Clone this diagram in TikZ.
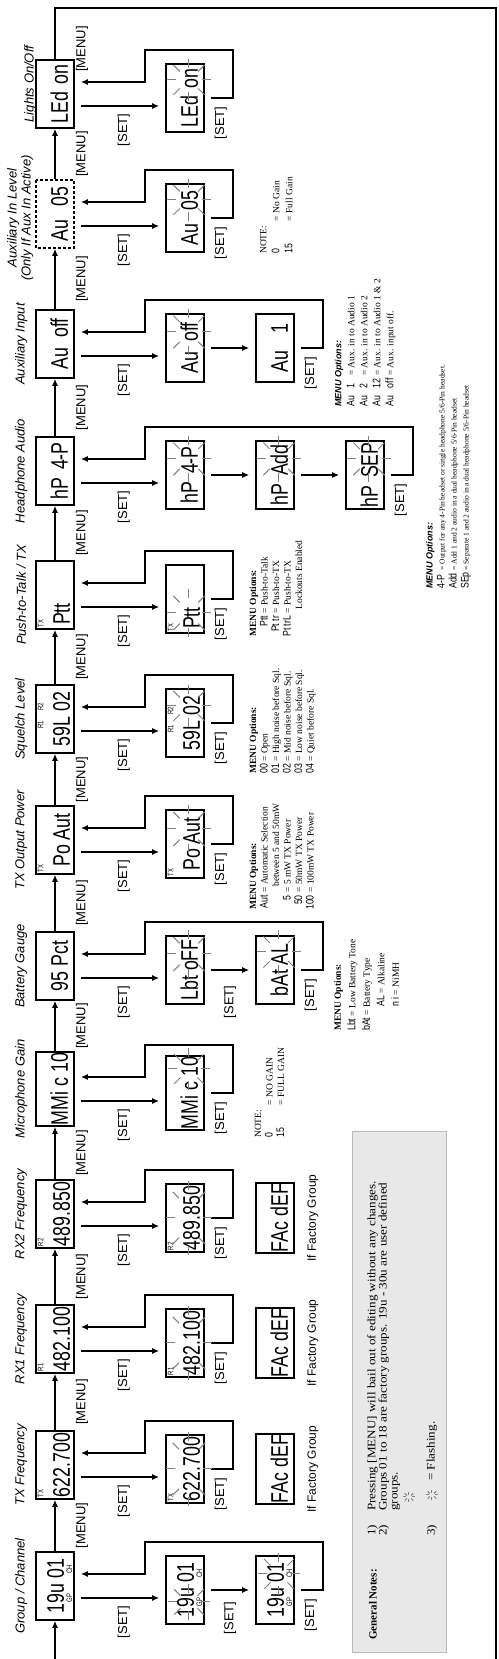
\documentclass[tikz,border=0pt]{standalone}
\usepackage{fontspec}
\setmainfont{Liberation Serif}
\newfontfamily\lcdfont[FakeStretch=0.74]{Liberation Sans}
\newfontfamily\lblfont{Liberation Sans}
\newfontfamily\keyfont[FakeStretch=0.8]{Liberation Sans}
\newfontfamily\notefont[FakeStretch=1.14]{Liberation Serif}
\usetikzlibrary{arrows.meta,calc}

\newcommand{\optkey}[1]{{\keyfont\fontsize{11}{11}\selectfont #1}}
% rays round the part of a display that flashes
\def\raylen{9}
\newcommand{\flashat}[5]{%
  \foreach \ang in {0,45,...,315}
    {\draw[ray] ($(#1)+(#2,#3)+({#4*cos(\ang)},{#5*sin(\ang)})$) -- ($(#1)+(#2,#3)+({(#4+\raylen)*cos(\ang)},{(#5+\raylen)*sin(\ang)})$);}}

\begin{document}
\begin{tikzpicture}[x=1pt, y=1pt, rotate=90, transform shape]
  \tikzset{lcd/.style = {draw, line width=1.6pt, minimum width=68pt, minimum height=38pt, inner sep=1pt,
      text height=26pt, text depth=0pt, font=\lcdfont\fontsize{24}{24}\selectfont}}
  \tikzset{tagged/.style = {text height=30pt}}
  \tikzset{grpbox/.style = {text height=22pt, text depth=4pt}}
  \tikzset{tag/.style = {font=\lcdfont\fontsize{8}{8}\selectfont, inner sep=2.5pt, anchor=north west}}
  \tikzset{lbl/.style = {font=\lblfont\fontsize{13}{13}\selectfont, inner sep=0pt}}
  \tikzset{ttl/.style = {font=\lblfont\itshape\fontsize{13}{14}\selectfont, inner sep=0pt, align=center}}
  \tikzset{arr/.style = {line width=1.6pt, -{Latex[length=7pt,width=6pt]}}}
  \tikzset{gap/.style = {shorten <=6pt, shorten >=6pt}}
  \tikzset{ray/.style = {gray, line width=1pt}}
  \tikzset{opt/.style = {font=\fontsize{9.5}{11.5}\selectfont, inner sep=0pt, anchor=north west, align=left}}

  \useasboundingbox (0,0) rectangle (1659,498);

  % main displays
  \node[lcd, grpbox] (grp) at (73,443) {19u 01};
  \node[lcd, tagged, label={[tag]north west:TX}] (txf) at (194,443) {622.700};
  \node[lcd, tagged, label={[tag]north west:R1}] (rxa) at (320,443) {482.100};
  \node[lcd, tagged, label={[tag]north west:R2}] (rxb) at (445,443) {489.850};
  \node[lcd] (mic) at (570,443) {MMi c 10};
  \node[lcd] (bat) at (693,443) {95 Pct};
  \node[lcd, tagged, label={[tag]north west:TX}] (pwr) at (819,443) {Po Aut};
  \node[lcd, tagged] (sql) at (940,443) {59L 02};
  \node[lcd, tagged, label={[tag]north west:TX}, text width=60pt, align=left] (ptt) at (1064,443) {Ptt};
  \node[lcd] (hp) at (1188,443) {hP\hspace{8pt}4-P};
  \node[lcd] (aux) at (1315,443) {Au\hspace{10pt}off};
  \node[lcd, densely dashed] (auxl) at (1445,443) {Au\hspace{14pt}05};
  \node[lcd] (led) at (1565,443) {LEd\hspace{8pt}on};

  % displays after [SET]
  \node[lcd, grpbox] (grp2) at (69,313) {19u 01};
  \node[lcd, grpbox] (grp3) at (69,223) {19u 01};
  \node[lcd, tagged, label={[tag]north west:TX}] (txf2) at (190,313) {622.700};
  \node[lcd] (txf3) at (190,223) {FAc dEF};
  \node[lcd, tagged, label={[tag]north west:R1}] (rxa2) at (316,313) {482.100};
  \node[lcd] (rxa3) at (316,223) {FAc dEF};
  \node[lcd, tagged, label={[tag]north west:R2}] (rxb2) at (441,313) {489.850};
  \node[lcd] (rxb3) at (441,223) {FAc dEF};
  \node[lcd] (mic2) at (566,313) {MMi c 10};
  \node[lcd] (bat2) at (689,313) {Lbt oFF};
  \node[lcd] (bat3) at (689,223) {bAt AL};
  \node[lcd, tagged, label={[tag]north west:TX}] (pwr2) at (815,313) {Po Aut};
  \node[lcd, tagged] (sql2) at (936,313) {59L 02};
  \node[lcd, tagged, label={[tag]north west:TX}, text width=60pt, align=left] (ptt2) at (1060,313) {Ptt};
  \node[lcd] (hp2) at (1184,313) {hP\hspace{8pt}4-P};
  \node[lcd] (hp3) at (1184,223) {hP\hspace{8pt}Add};
  \node[lcd] (hp4) at (1184,133) {hP\hspace{8pt}SEP};
  \node[lcd] (aux2) at (1311,313) {Au\hspace{10pt}off};
  \node[lcd] (aux3) at (1311,223) {Au\hspace{18pt}1};
  \node[lcd] (auxl2) at (1441,313) {Au\hspace{14pt}05};
  \node[lcd] (led2) at (1561,313) {LEd\hspace{8pt}on};

  % small marks on the displays
  \foreach \n in {grp,grp2,grp3}
  {
    \node[tag, anchor=south] (\n-gp) at ($(\n.south)+(-12,0)$) {GP};
    \node[tag, anchor=south] (\n-ch) at ($(\n.south)+(17,0)$) {CH};
  }
  \foreach \n in {sql,sql2}
  {
    \node[tag, anchor=north] (\n-r1) at ($(\n.north)+(-6,0)$) {R1};
    \node[tag, anchor=north] (\n-r2) at ($(\n.north)+(12,0)$) {R2};
  }

  % titles
  \foreach \n/\t in {grp/{Group / Channel}, txf/{TX Frequency}, rxa/{RX1 Frequency}, rxb/{RX2 Frequency},
      mic/{Microphone Gain}, bat/{Battery Gauge}, pwr/{TX Output Power}, sql/{Squelch Level},
      ptt/{Push-to-Talk / TX}, hp/{Headphone Audio}, aux/{Auxiliary Input}}
  {
    \node[ttl] (t-\n) at ($(\n.north)+(0,14)$) {\t};
  }
  \node[ttl] (t-auxl) at ($(auxl.north)+(-4,15)$) {Auxiliary In Level\\(Only If Aux In Active)};
  \node[ttl] (t-led) at ($(led.north)+(10,5)$) {Lights On/Off};

  % [MENU] steps
  \foreach \a/\b in {grp/txf, txf/rxa, rxa/rxb, rxb/mic, mic/bat, bat/pwr, pwr/sql, sql/ptt, ptt/hp, hp/aux, aux/auxl, auxl/led}
  {
    \draw[arr] (\a) -- (\b);
    \node[lbl] (m-\a) at ($(\a.east)!0.5!(\b.west)+(0,-27)$) {[MENU]};
  }
  \draw[arr] (led.east) -- ++(51,0) |- (-8,2) |- (grp.west);
  \node[lbl] (m-led) at (1610,416) {[MENU]};

  % [SET] steps
  \foreach \m/\f/\l in {grp/grp2/grp3, txf/txf2/txf2, rxa/rxa2/rxa2, rxb/rxb2/rxb2, mic/mic2/mic2,
      bat/bat2/bat3, pwr/pwr2/pwr2, sql/sql2/sql2, ptt/ptt2/ptt2, hp/hp2/hp4, aux/aux2/aux3,
      auxl/auxl2/auxl2, led/led2/led2}
  {
    \draw[arr, gap] ($(\m.south)+(-12,0)$) -- ($(\f.north)+(-8,0)$);
    \node[lbl] (s-\m) at ($(\m.south)+(-36,-49)$) {[SET]};
    \draw[arr, shorten >=6pt] ($(\l.south)+(0,-6)$) |- ++(48,-22) |- ($(\m.south)+(12,-70)$) -- ($(\m.south)+(12,0)$);
    \node[lbl] (e-\m) at ($(\l.south)+(-25,-16)$) {[SET]};
  }
  \draw[arr, gap] (grp2) -- (grp3);
  \node[lbl] (s-grp2) at ($(grp2.south)!0.5!(grp3.north)+(-28,0)$) {[SET]};
  \draw[arr, gap] (bat2) -- (bat3);
  \node[lbl] (s-bat2) at ($(bat2.south)!0.5!(bat3.north)+(-32,0)$) {[SET]};
  \draw[arr, gap] (aux2) -- (aux3);
  \draw[arr, gap] (hp2) -- (hp3);
  \draw[arr, gap] (hp3) -- (hp4);

  % factory groups
  \foreach \n in {txf3,rxa3,rxb3}
  {
    \node[lbl, font=\lblfont\fontsize{12}{12}\selectfont] (\n-f) at ($(\n.south)+(0,-18)$) {If Factory Group};
  }

  % flashing
  \flashat{grp2}{-12}{-4}{9}{12}
  \flashat{grp3}{16}{-4}{12}{12}
  \foreach \n in {txf2,rxa2,rxb2} {\flashat{\n}{0}{-4}{28}{14}}
  \flashat{mic2}{24}{-4}{12}{12}
  \flashat{bat2}{16}{-4}{15}{13}
  \flashat{bat3}{18}{-4}{13}{13}
  \flashat{pwr2}{15}{-4}{15}{13}
  \flashat{sql2}{17}{-4}{12}{13}
  \flashat{ptt2}{-14}{-4}{15}{13}
  \foreach \n in {hp2,hp3,hp4,aux2} {\flashat{\n}{16}{-4}{14}{13}}
  \flashat{auxl2}{18}{-4}{12}{13}
  \flashat{led2}{18}{-4}{12}{13}

  % options and notes
  \node[opt] (mic-n) at (521,245) {\begin{tabular}{@{}l@{\ \ }l@{}}NOTE: & \\ \optkey{0} & = NO GAIN\\ \optkey{15} & = FULL GAIN\end{tabular}};
  \node[opt, font=\fontsize{9.5}{14.5}\selectfont] (bat-n) at (628,164) {\textbf{MENU Options:}\\ \optkey{Lbt} = Low Battery Tone\\ \optkey{bAt} = Battery Type\\ \hspace*{24pt}\optkey{AL} = Alkaline\\ \hspace*{24pt}\optkey{n i} = NiMH};
  \node[opt] (pwr-n) at (749,250) {\begin{tabular}{@{}r@{\ }l@{}}\multicolumn{2}{@{}l}{\textbf{MENU Options:}}\\ \optkey{Aut} & = Automatic Selection\\ & \hspace*{6pt}between 5 and 50mW\\ \optkey{5} & = 5 mW TX Power\\ \optkey{50} & = 50mW TX Power\\ \optkey{100} & = 100mW TX Power\end{tabular}};
  \node[opt] (sql-n) at (885,250) {\begin{tabular}{@{}l@{\ }l@{}}\multicolumn{2}{@{}l}{\textbf{MENU Options:}}\\ \optkey{00} & = Open\\ \optkey{01} & = High noise before Sql.\\ \optkey{02} & = Mid noise before Sql.\\ \optkey{03} & = Low noise before Sql.\\ \optkey{04} & = Quiet before Sql.\end{tabular}};
  \node[opt] (ptt-n) at (1022,250) {\begin{tabular}{@{}r@{\ }l@{}}\multicolumn{2}{@{}l}{\textbf{MENU Options:}}\\ \optkey{Ptt} & = Push-to-Talk\\ \optkey{Pt tr} & = Push-to-TX\\ \optkey{Pt trL} & = Push-to-TX\\ & \hspace*{4pt}Lockouts Enabled\end{tabular}};
  \node[opt, font=\fontsize{7.5}{12}\selectfont] (hp-n) at (1070,74) {\begin{tabular}{@{}l@{\ }l@{}}\multicolumn{2}{@{}l}{\lblfont\bfseries\itshape\fontsize{9}{9}\selectfont MENU Options:}\\ \optkey{4-P} & = Output for any 4-Pin headset or single headphone 5/6-Pin headset.\\ \optkey{Add} & = Add 1 and 2 audio in a dual headphone 5/6-Pin headset\\ \optkey{SEp} & = Separate 1 and 2 audio in a dual headphone 5/6-Pin headset\end{tabular}};
  \node[opt, font=\fontsize{9.5}{13}\selectfont] (aux-n) at (1252,166) {\begin{tabular}{@{}l@{\hspace{8pt}}l@{\ }l@{}}\multicolumn{3}{@{}l}{\lblfont\bfseries\itshape\fontsize{9}{9}\selectfont MENU Options:}\\ \optkey{Au} & \optkey{1} & = Aux. in to Audio 1\\ \optkey{Au} & \optkey{2} & = Aux. in to Audio 2\\ \optkey{Au} & \optkey{12} & = Aux. in to Audio 1 \& 2\\ \optkey{Au} & \optkey{off} & = Aux. input off.\end{tabular}};
  \node[opt, font=\fontsize{9.5}{13}\selectfont] (auxl-n) at (1405,241) {\begin{tabular}{@{}l@{\ \ }l@{}}NOTE: & \\ \optkey{0} & = No Gain\\ \optkey{15} & = Full Gain\end{tabular}};

  % general notes
  \node[draw=gray!55, fill=gray!18, line width=1pt, minimum width=521pt, minimum height=94pt, inner sep=0pt] (notes) at (266.5,98) {};
  \node[anchor=west, inner sep=0pt, font=\bfseries\fontsize{11}{11}\selectfont] (notes-h) at (19,125) {General Notes:};
  \node[opt, font=\notefont\fontsize{11.5}{11}\selectfont] (notes-a) at (123,131) {\begin{tabular}{@{}l@{\hspace{14pt}}l@{}}1) & Pressing [MENU] will bail out of editing without any changes.\\ 2) & Groups 01 to 18 are factory groups. 19u - 30u are user defined\\ & groups.\end{tabular}};
  \node[anchor=west, inner sep=0pt, font=\notefont\fontsize{11.5}{11}\selectfont] (notes-c) at (123,66) {3)};
  \node[anchor=west, inner sep=0pt, font=\notefont\fontsize{11.5}{11}\selectfont] (notes-d) at (178,66) {= Flashing.};
  \coordinate (fl-a) at (162,89);
  \coordinate (fl-b) at (164,66);
  \def\raylen{3}
  \flashat{fl-a}{0}{0}{2}{3}
  \flashat{fl-b}{0}{0}{2}{3}
\end{tikzpicture}
\end{document}
